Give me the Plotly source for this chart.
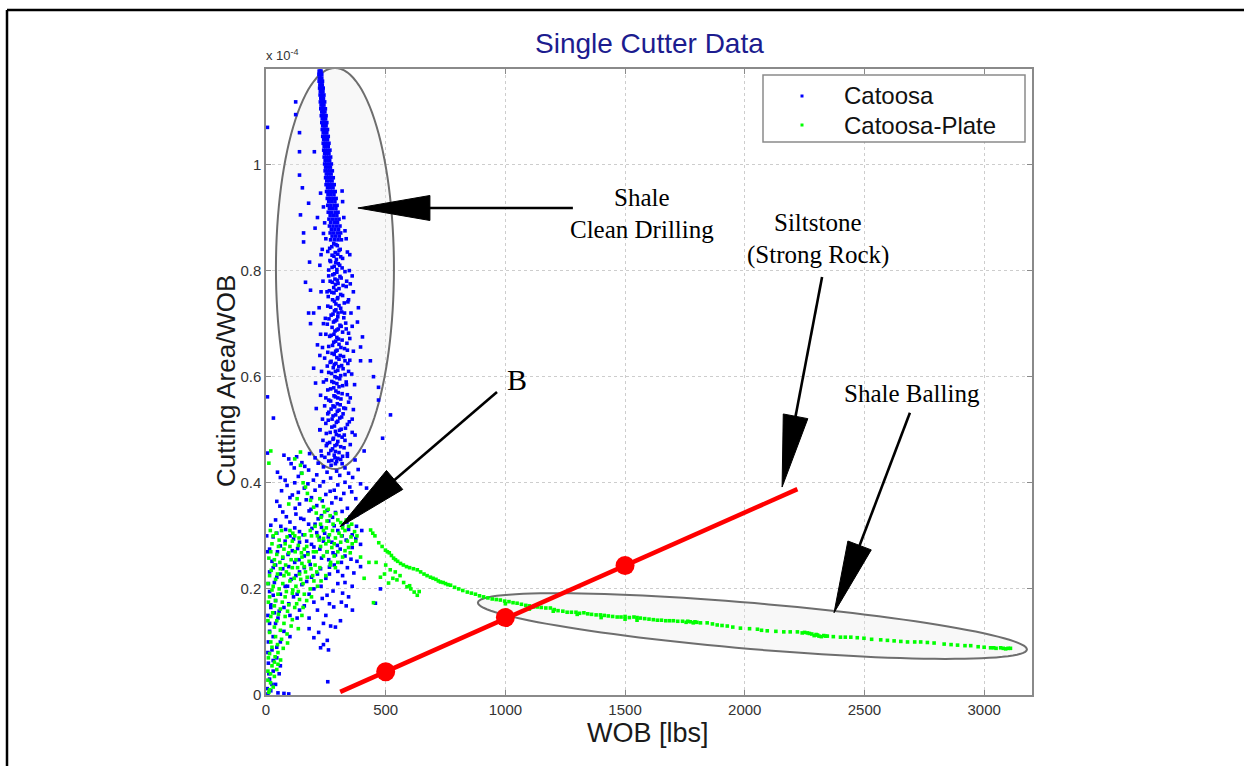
import numpy as np
import plotly.graph_objects as go

# ---------------- data: WOB [lbs] vs cutting area / WOB [x 1e-4] ----------------

# Catoosa, clean-drilling band: rows of (ratio, [WOB values])
catoosa_band_rows = [
    (1.176, [222, 226, 230]), (1.170, [221, 225, 229, 233]), (1.163, [223, 228, 233]),
    (1.157, [222, 227, 232, 236]), (1.150, [225, 230, 235]), (1.144, [224, 229, 234, 239]),
    (1.138, [227, 232, 238]), (1.131, [226, 231, 236, 242]), (1.125, [229, 234, 240]),
    (1.118, [227, 233, 239, 245]), (1.112, [230, 236, 242]), (1.105, [229, 235, 241, 248]),
    (1.099, [233, 239, 246]), (1.092, [231, 237, 244, 251]), (1.086, [235, 242, 249]),
    (1.079, [233, 240, 247, 254]), (1.073, [237, 244, 251]), (1.066, [235, 242, 249, 257]),
    (1.060, [239, 246, 254]), (1.053, [237, 245, 252, 260]), (1.047, [241, 249, 257]),
    (1.040, [239, 247, 255, 263]), (1.034, [243, 251, 260]), (1.027, [241, 249, 258, 267]),
    (1.021, [245, 254, 263]), (1.014, [243, 252, 261, 270]), (1.008, [247, 256, 266]),
    (1.001, [245, 254, 264, 273]), (0.995, [249, 259, 269]), (0.988, [247, 257, 267, 277]),
    (0.982, [252, 262, 272]), (0.975, [249, 260, 270, 281]), (0.969, [254, 265, 276]),
    (0.962, [251, 262, 273, 285]), (0.956, [257, 268, 280]), (0.949, [253, 265, 277, 289]),
    (0.943, [259, 271, 284]), (0.936, [256, 268, 281, 293]), (0.930, [262, 275, 288]),
    (0.923, [258, 271, 285, 297]), (0.917, [265, 278, 292]), (0.910, [260, 274, 289, 301]),
    (0.904, [268, 282, 296]), (0.897, [263, 277, 292, 305]), (0.891, [270, 285, 299]),
    (0.884, [265, 280, 295, 309]), (0.878, [273, 288, 303]), (0.871, [268, 283, 298, 312]),
    (0.865, [276, 291, 306]), (0.858, [270, 286, 301, 315]),
]

# Catoosa, lower part of the band
catoosa_band_lower = [
    (283, 0.851), (298, 0.847), (266, 0.842), (305, 0.838), (289, 0.834), (276, 0.829),
    (312, 0.826), (294, 0.821), (270, 0.817), (302, 0.813), (285, 0.808), (318, 0.805),
    (262, 0.801), (296, 0.797), (279, 0.792), (309, 0.789), (288, 0.784), (268, 0.780),
    (301, 0.776), (322, 0.772), (283, 0.768), (293, 0.763), (275, 0.759), (312, 0.755),
    (260, 0.751), (298, 0.747), (286, 0.742), (327, 0.739), (305, 0.734), (270, 0.731),
    (292, 0.726), (316, 0.722), (280, 0.718), (300, 0.713), (263, 0.709), (288, 0.705),
    (333, 0.701), (309, 0.697), (276, 0.693), (296, 0.688), (320, 0.684), (284, 0.680),
    (266, 0.676), (303, 0.671), (291, 0.667), (338, 0.663), (278, 0.659), (313, 0.655),
    (297, 0.650), (258, 0.646), (285, 0.642), (324, 0.638), (305, 0.633), (272, 0.629),
    (292, 0.625), (316, 0.621), (281, 0.617), (300, 0.612), (262, 0.608), (330, 0.604),
    (288, 0.600), (308, 0.596), (275, 0.591), (296, 0.587), (320, 0.583), (283, 0.579),
    (258, 0.575), (302, 0.570), (340, 0.566), (290, 0.562), (313, 0.558), (270, 0.554),
    (298, 0.549), (280, 0.545), (325, 0.541), (305, 0.537), (262, 0.533), (291, 0.528),
    (316, 0.524), (276, 0.520), (300, 0.516), (250, 0.512), (286, 0.507), (332, 0.503),
    (307, 0.499), (268, 0.495), (294, 0.491), (318, 0.486), (280, 0.482), (300, 0.478),
    (256, 0.474), (288, 0.470), (326, 0.466), (271, 0.461), (305, 0.457), (285, 0.452),
    (246, 0.448), (312, 0.444), (295, 0.440),
    (292, 0.849), (275, 0.845), (310, 0.840), (258, 0.836), (300, 0.831), (284, 0.827),
    (320, 0.823), (267, 0.819), (291, 0.815), (308, 0.810), (276, 0.806), (296, 0.802),
    (330, 0.798), (286, 0.794), (262, 0.790), (314, 0.786), (298, 0.782), (277, 0.778),
    (290, 0.774), (335, 0.770), (305, 0.766), (265, 0.762), (284, 0.758), (320, 0.753),
    (300, 0.749), (278, 0.745), (342, 0.741), (292, 0.737), (258, 0.733), (312, 0.729),
    (286, 0.724), (301, 0.720), (272, 0.716), (325, 0.711), (295, 0.707), (282, 0.703),
    (256, 0.699), (314, 0.695), (302, 0.690), (288, 0.686), (345, 0.682), (272, 0.678),
    (296, 0.674), (318, 0.669), (283, 0.665), (305, 0.661), (262, 0.657), (328, 0.653),
    (291, 0.648), (276, 0.644), (310, 0.640), (296, 0.636), (350, 0.631), (268, 0.627),
    (285, 0.623), (304, 0.619), (322, 0.615), (290, 0.610), (274, 0.606), (312, 0.602),
    (296, 0.598), (252, 0.594), (283, 0.589), (336, 0.585), (305, 0.581), (270, 0.577),
    (292, 0.573), (318, 0.568), (284, 0.564), (300, 0.560), (262, 0.556), (345, 0.552),
    (310, 0.547), (287, 0.543), (272, 0.539), (298, 0.535), (322, 0.530), (280, 0.526),
    (308, 0.522), (260, 0.518), (294, 0.514), (340, 0.510), (275, 0.505), (314, 0.501),
    (290, 0.497), (252, 0.493), (305, 0.489), (282, 0.484), (330, 0.480), (266, 0.476),
    (296, 0.472), (312, 0.468), (278, 0.464), (290, 0.459), (262, 0.455), (320, 0.450),
    (300, 0.446), (275, 0.442), (290, 0.436),
    (235, 0.84), (340, 0.835), (225, 0.81), (348, 0.80), (238, 0.78), (352, 0.775),
    (230, 0.76), (345, 0.745), (222, 0.73), (355, 0.72), (240, 0.70), (360, 0.695),
    (228, 0.68), (350, 0.672), (236, 0.655), (365, 0.648), (245, 0.635), (342, 0.625),
    (232, 0.61), (358, 0.605), (240, 0.59), (370, 0.585), (228, 0.565), (352, 0.56),
    (245, 0.545), (365, 0.538), (236, 0.52), (348, 0.515), (225, 0.50), (360, 0.495),
    (238, 0.48), (352, 0.472), (230, 0.46), (340, 0.455), (250, 0.68), (335, 0.59),
    (328, 0.72), (256, 0.62), (332, 0.54), (250, 0.56), (340, 0.65), (255, 0.76),
    (337, 0.78), (248, 0.71), (345, 0.61), (252, 0.47), (327, 0.49), (335, 0.69),
    (258, 0.53), (330, 0.63), (320, 0.93), (325, 0.90), (330, 0.875), (240, 0.92),
    (245, 0.89), (318, 0.95), (250, 0.86), (335, 0.86),
]

# Catoosa, scattered points around the band
catoosa_scatter = [
    (6, 1.07), (124, 1.118), (124, 1.094), (140, 1.06), (140, 1.024), (202, 1.024),
    (140, 0.98), (152, 0.956), (228, 0.946), (178, 0.927), (144, 0.905), (157, 0.871),
    (157, 0.854), (182, 0.816), (165, 0.778), (186, 0.763), (178, 0.72), (199, 0.72),
    (186, 0.70), (386, 0.73), (382, 0.703), (403, 0.675), (395, 0.656), (395, 0.63),
    (436, 0.63), (449, 0.6), (470, 0.58), (470, 0.556), (520, 0.528), (487, 0.484),
    (6, 0.562), (31, 0.522), (6, 0.456), (199, 0.616), (207, 0.588), (215, 0.66),
    (225, 0.64), (360, 0.79), (350, 0.83), (365, 0.76), (210, 0.54), (225, 0.5),
    (360, 0.52), (372, 0.49), (410, 0.46), (230, 0.83), (240, 0.87), (215, 0.90),
    (205, 0.88),
]

# Catoosa, low-ratio cloud near the origin
catoosa_low = [
    (95, 0.445), (150, 0.438), (205, 0.447), (262, 0.441), (318, 0.436), (372, 0.443),
    (118, 0.428), (178, 0.424), (240, 0.43), (295, 0.422), (345, 0.418), (60, 0.41),
    (135, 0.412), (198, 0.405), (270, 0.409), (330, 0.401), (395, 0.398), (88, 0.395),
    (160, 0.39), (225, 0.394), (285, 0.386), (358, 0.383), (110, 0.377), (190, 0.372),
    (250, 0.378), (312, 0.369), (45, 0.365), (140, 0.36), (212, 0.357), (275, 0.362),
    (340, 0.352), (400, 0.357),
    (70, 0.345), (125, 0.341), (180, 0.347), (232, 0.338), (290, 0.344), (352, 0.336),
    (40, 0.33), (100, 0.326), (158, 0.331), (205, 0.322), (262, 0.328), (320, 0.321),
    (378, 0.318), (82, 0.312), (140, 0.308), (192, 0.314), (245, 0.305), (300, 0.31),
    (360, 0.302), (30, 0.298), (115, 0.294), (170, 0.29), (222, 0.297), (275, 0.288),
    (335, 0.292), (395, 0.284), (60, 0.281), (132, 0.276), (200, 0.279), (255, 0.27),
    (310, 0.275), (92, 0.265), (160, 0.262), (232, 0.258), (290, 0.264), (355, 0.256),
    (25, 0.252), (120, 0.25),
    (185, 0.246), (265, 0.241), (395, 0.242), (367, 0.23), (70, 0.238), (140, 0.232),
    (215, 0.228), (300, 0.233), (45, 0.222), (105, 0.218), (170, 0.214), (250, 0.22),
    (330, 0.212), (80, 0.205), (200, 0.2), (280, 0.196), (345, 0.185), (478, 0.2),
    (130, 0.19), (30, 0.188), (235, 0.182), (315, 0.175), (95, 0.172), (160, 0.168),
    (283, 0.166), (361, 0.16), (215, 0.16), (457, 0.173), (55, 0.158), (311, 0.14),
    (250, 0.15), (130, 0.145),
    (220, 0.118), (256, 0.103), (228, 0.089), (261, 0.085), (180, 0.125), (270, 0.13),
    (100, 0.11), (40, 0.135), (15, 0.12), (60, 0.1), (25, 0.085), (45, 0.07),
    (10, 0.06), (30, 0.045), (55, 0.04), (15, 0.03), (40, 0.02), (5, 0.012),
    (20, 0.008), (50, 0.004), (75, 0.003), (95, 0.002), (8, 0.002), (258, 0.025),
    (30, 0.24), (10, 0.21), (20, 0.17), (8, 0.15), (35, 0.155),
    (75, 0.452), (128, 0.449), (182, 0.455), (232, 0.451), (288, 0.447), (340, 0.45),
    (105, 0.436), (162, 0.431), (218, 0.437), (272, 0.433), (330, 0.428), (385, 0.425),
    (48, 0.42), (148, 0.418), (212, 0.415), (255, 0.42), (308, 0.414), (362, 0.41),
    (80, 0.405), (120, 0.4), (175, 0.398), (240, 0.402), (300, 0.396), (350, 0.392),
    (420, 0.39), (65, 0.385), (135, 0.382), (205, 0.386), (268, 0.384), (325, 0.38),
    (100, 0.372), (168, 0.368), (235, 0.366), (292, 0.372), (375, 0.37), (58, 0.356),
    (122, 0.352), (188, 0.35), (255, 0.348), (318, 0.346), (380, 0.34), (85, 0.336),
    (145, 0.333), (218, 0.332), (278, 0.335), (338, 0.326), (20, 0.32), (62, 0.318),
    (120, 0.315), (178, 0.322), (232, 0.316), (285, 0.319), (345, 0.312), (400, 0.31),
    (45, 0.305), (100, 0.3), (155, 0.302), (212, 0.306), (260, 0.298), (318, 0.3),
    (375, 0.295), (80, 0.29), (140, 0.288), (190, 0.284), (240, 0.29), (298, 0.282),
    (360, 0.278), (15, 0.275), (48, 0.27), (110, 0.272), (175, 0.268), (225, 0.275),
    (280, 0.268), (330, 0.262), (70, 0.258), (138, 0.255), (200, 0.26), (262, 0.255),
    (315, 0.25), (380, 0.252),
    (40, 0.245), (95, 0.242), (160, 0.24), (228, 0.238), (285, 0.245), (340, 0.24),
    (15, 0.232), (60, 0.228), (125, 0.225), (190, 0.222), (265, 0.228), (320, 0.225),
    (35, 0.212), (90, 0.205), (150, 0.208), (230, 0.205), (300, 0.21), (360, 0.205),
    (15, 0.195), (60, 0.19), (115, 0.185), (180, 0.19), (255, 0.188), (320, 0.192),
    (40, 0.178), (75, 0.165), (140, 0.16), (200, 0.175), (265, 0.172), (335, 0.168),
    (20, 0.165), (50, 0.145), (100, 0.15), (180, 0.145), (240, 0.135), (290, 0.128),
    (15, 0.135), (30, 0.11), (75, 0.12), (200, 0.108), (240, 0.095), (10, 0.1),
    (45, 0.09), (30, 0.065), (12, 0.04), (60, 0.055), (25, 0.02), (8, 0.08),
    (3, 0.3), (5, 0.27),
]

# Catoosa-Plate, cloud at low WOB
plate_cloud = [
    (144, 0.458), (144, 0.433), (150, 0.418), (155, 0.40), (173, 0.38), (186, 0.367),
    (199, 0.354), (210, 0.343), (12, 0.437), (20, 0.46), (120, 0.445), (165, 0.392),
    (225, 0.37), (240, 0.355), (260, 0.35), (130, 0.37), (95, 0.36),
    (230, 0.335), (255, 0.328), (280, 0.322), (300, 0.33), (320, 0.315), (345, 0.318),
    (370, 0.308), (205, 0.318), (240, 0.31), (265, 0.302), (290, 0.296), (315, 0.3),
    (340, 0.29), (190, 0.3), (222, 0.292), (250, 0.285), (275, 0.278), (300, 0.27),
    (330, 0.272), (360, 0.285), (380, 0.3), (210, 0.27), (240, 0.262), (170, 0.28),
    (150, 0.26),
    (30, 0.3), (55, 0.292), (80, 0.285), (110, 0.29), (135, 0.282), (160, 0.275),
    (20, 0.27), (45, 0.265), (70, 0.26), (95, 0.268), (125, 0.255), (150, 0.248),
    (180, 0.252), (35, 0.245), (60, 0.238), (85, 0.232), (110, 0.24), (140, 0.228),
    (165, 0.232), (195, 0.225), (15, 0.225), (40, 0.218), (70, 0.21), (100, 0.215),
    (125, 0.205), (155, 0.21), (185, 0.2), (215, 0.205), (25, 0.198), (50, 0.19),
    (80, 0.185), (110, 0.192), (140, 0.18), (170, 0.178), (10, 0.175), (35, 0.168),
    (60, 0.162), (90, 0.158), (120, 0.165), (150, 0.15), (20, 0.148), (45, 0.14),
    (75, 0.135), (105, 0.13), (135, 0.125), (15, 0.118), (40, 0.11), (65, 0.105),
    (90, 0.098), (25, 0.09), (50, 0.08), (10, 0.07), (35, 0.062), (61, 0.066),
    (19, 0.04), (8, 0.028), (30, 0.015), (19, 0.023), (45, 0.048), (12, 0.005),
    (225, 0.24), (250, 0.225), (205, 0.245), (230, 0.215), (270, 0.25), (290, 0.24),
    (120, 0.3), (100, 0.31), (449, 0.174), (410, 0.22), (430, 0.25), (395, 0.26),
    (18, 0.31), (42, 0.305), (65, 0.31), (88, 0.298), (112, 0.305), (138, 0.296),
    (162, 0.302), (185, 0.31), (25, 0.285), (52, 0.28), (75, 0.275), (100, 0.28),
    (122, 0.27), (148, 0.268), (175, 0.265), (198, 0.27), (12, 0.258), (35, 0.255),
    (58, 0.25), (82, 0.245), (105, 0.255), (132, 0.24), (160, 0.242), (188, 0.238),
    (212, 0.232), (22, 0.235), (48, 0.228), (75, 0.225), (95, 0.228), (118, 0.22),
    (145, 0.218), (172, 0.222), (200, 0.215), (8, 0.21), (30, 0.205), (55, 0.2),
    (85, 0.195), (112, 0.198), (135, 0.195), (160, 0.19), (190, 0.185), (15, 0.185),
    (40, 0.178), (68, 0.175), (95, 0.17), (128, 0.172), (155, 0.165), (28, 0.155),
    (52, 0.152), (80, 0.148), (110, 0.142), (8, 0.14), (35, 0.128), (60, 0.122),
    (88, 0.115), (20, 0.1), (48, 0.095), (72, 0.088), (15, 0.078), (38, 0.072),
    (25, 0.055), (50, 0.058), (8, 0.045), (35, 0.035), (15, 0.01),
    (245, 0.345), (268, 0.338), (292, 0.342), (312, 0.325), (335, 0.33), (358, 0.322),
    (228, 0.322), (252, 0.315), (278, 0.31), (305, 0.305), (330, 0.31), (355, 0.298),
    (215, 0.3), (240, 0.295), (262, 0.29), (285, 0.285), (312, 0.288), (345, 0.278),
    (375, 0.29), (228, 0.28), (255, 0.27), (285, 0.262), (320, 0.26), (352, 0.268),
    (268, 0.245), (300, 0.25),
]

# Catoosa-Plate, decaying trend at higher WOB
plate_trend = [
    (437, 0.311), (455, 0.3), (471, 0.287), (499, 0.273), (515, 0.268), (533, 0.258),
    (550, 0.252), (574, 0.245), (600, 0.24), (632, 0.236), (660, 0.228), (687, 0.222),
    (710, 0.218), (729, 0.213), (750, 0.21), (771, 0.207), (805, 0.2), (841, 0.194),
    (875, 0.19), (909, 0.185), (945, 0.181), (979, 0.179), (1015, 0.176), (1049, 0.173),
    (1085, 0.169), (1118, 0.166), (1150, 0.165), (1188, 0.164), (1220, 0.159),
    (1258, 0.156), (1295, 0.156), (1328, 0.155), (1360, 0.152), (1397, 0.151),
    (1430, 0.149), (1467, 0.147), (1500, 0.148), (1537, 0.147), (1564, 0.145),
    (1600, 0.143), (1635, 0.141), (1670, 0.14), (1702, 0.14), (1740, 0.139),
    (1755, 0.137), (1773, 0.138), (1785, 0.136), (1800, 0.137), (1843, 0.136),
    (1885, 0.132), (1927, 0.13), (1982, 0.126), (2053, 0.124), (2094, 0.121),
    (2163, 0.119), (2220, 0.119), (2240, 0.117), (2262, 0.117), (2280, 0.115),
    (2290, 0.112), (2304, 0.113), (2320, 0.11), (2330, 0.112), (2345, 0.111),
    (2400, 0.109), (2443, 0.109), (2498, 0.107), (2568, 0.104), (2624, 0.102),
    (2680, 0.1), (2735, 0.1), (2791, 0.098), (2833, 0.096), (2889, 0.094),
    (2944, 0.093), (3000, 0.09), (3027, 0.089), (3050, 0.088), (3069, 0.089),
    (3090, 0.087), (3110, 0.088),
    (478, 0.222), (512, 0.211), (519, 0.236), (547, 0.217), (560, 0.225), (589, 0.204),
    (605, 0.2), (619, 0.194), (632, 0.188), (500, 0.245), (540, 0.232), (460, 0.25),
    (1000, 0.172), (1100, 0.162), (1200, 0.158), (1300, 0.152), (1400, 0.146),
    (1500, 0.143), (1550, 0.141),
    (446, 0.305), (485, 0.28), (507, 0.27), (524, 0.263), (541, 0.255), (562, 0.248),
    (587, 0.242), (616, 0.238), (646, 0.232), (673, 0.225), (698, 0.22), (720, 0.215),
    (740, 0.212), (760, 0.208), (788, 0.203), (822, 0.197), (858, 0.192), (892, 0.187),
    (927, 0.183), (962, 0.18), (997, 0.177), (1032, 0.174), (1067, 0.171), (1100, 0.168),
    (1134, 0.166), (1169, 0.164), (1204, 0.161), (1240, 0.158), (1276, 0.156),
    (1310, 0.154), (1344, 0.153), (1379, 0.151), (1413, 0.15), (1448, 0.148),
    (1483, 0.147), (1518, 0.146), (1550, 0.146), (1582, 0.144), (1618, 0.142),
    (1652, 0.141), (1686, 0.14), (1720, 0.139), (1762, 0.139), (1792, 0.138),
    (1815, 0.136), (1865, 0.134), (1905, 0.131), (1950, 0.128), (2020, 0.125),
    (2070, 0.122), (2130, 0.12), (2190, 0.119), (2250, 0.118), (2270, 0.116),
    (2298, 0.114), (2310, 0.111), (2338, 0.111), (2370, 0.11), (2420, 0.109),
    (2470, 0.108), (2530, 0.105), (2596, 0.103), (2652, 0.101), (2710, 0.1),
    (2763, 0.099), (2862, 0.095), (2920, 0.093), (2975, 0.091), (3040, 0.089),
    (3080, 0.088), (3100, 0.088),
    (495, 0.228), (530, 0.22), (575, 0.212), (600, 0.206), (640, 0.195),
]

# Siltstone (strong rock) trend line and its sample points
siltstone_wob = [310, 500, 1000, 1500, 2220]
siltstone_ratio = [0.006, 0.044, 0.146, 0.244, 0.388]

x_ticks = [0, 500, 1000, 1500, 2000, 2500, 3000]
y_ticks = [0, 0.2, 0.4, 0.6, 0.8, 1.0]
y_tick_text = ["0", "0.2", "0.4", "0.6", "0.8", "1"]

series_names = ["Catoosa", "Catoosa-Plate"]
series_colors = ["#0000ff", "#00ff00"]

# ---------------- layout geometry ----------------
W, H = 1253, 774
ML, MR, MT, MB = 266, 221, 69, 79
PW, PH = W - ML - MR, H - MT - MB
X_MAX, Y_MAX = 3200, 1.18
SX, SY = PW / X_MAX, PH / Y_MAX  # pixels per data unit


def px_x(px):
    return (px - ML) / PW


def px_y(py):
    return (H - MB - py) / PH


def unpack(points):
    return [p[0] for p in points], [p[1] for p in points]


band_x, band_y = [], []
for ratio, wobs in catoosa_band_rows:
    for w in wobs:
        band_x.append(w)
        band_y.append(ratio)

cx1, cy1 = unpack(catoosa_band_lower)
cx2, cy2 = unpack(catoosa_scatter)
cx3, cy3 = unpack(catoosa_low)
catoosa_x = band_x + cx1 + cx2 + cx3
catoosa_y = band_y + cy1 + cy2 + cy3

px1, py1 = unpack(plate_cloud)
px2, py2 = unpack(plate_trend)
plate_x = px1 + px2
plate_y = py1 + py2


def ellipse_path(cx, cy, a_px, b_px, angle_deg, n=120):
    th = np.radians(angle_deg)
    t = np.linspace(0, 2 * np.pi, n, endpoint=False)
    ox = a_px * np.cos(t) * np.cos(th) - b_px * np.sin(t) * np.sin(th)
    oy = a_px * np.cos(t) * np.sin(th) + b_px * np.sin(t) * np.cos(th)
    xs = cx + ox / SX
    ys = cy + oy / SY
    return "M " + " L ".join(f"{x:.2f},{y:.5f}" for x, y in zip(xs, ys)) + " Z"


def arrow_shapes(tail, tip, head_len=72, head_half=12.5, width=2.6):
    t = np.array([tail[0] * SX, tail[1] * SY])
    p = np.array([tip[0] * SX, tip[1] * SY])
    d = (p - t) / np.linalg.norm(p - t)
    n = np.array([-d[1], d[0]])
    base = p - d * head_len
    b1 = base + n * head_half
    b2 = base - n * head_half

    def to_data(v):
        return f"{v[0] / SX:.2f},{v[1] / SY:.5f}"

    shaft = dict(type="path", xref="x", yref="y", layer="above",
                 path=f"M {to_data(t)} L {to_data(base + d * 4)}",
                 line=dict(color="black", width=width))
    head = dict(type="path", xref="x", yref="y", layer="above",
                path=f"M {to_data(p)} L {to_data(b1)} L {to_data(b2)} Z",
                fillcolor="black", line=dict(color="black", width=1))
    return [shaft, head]


fig = go.Figure()

fig.add_trace(go.Scatter(
    x=catoosa_x, y=catoosa_y, mode="markers", name=series_names[0], showlegend=False,
    marker=dict(symbol="square", size=3.6, color=series_colors[0], line=dict(width=0)),
))
fig.add_trace(go.Scatter(
    x=plate_x, y=plate_y, mode="markers", name=series_names[1], showlegend=False,
    marker=dict(symbol="square", size=3.6, color=series_colors[1], line=dict(width=0)),
))
fig.add_trace(go.Scatter(
    x=siltstone_wob, y=siltstone_ratio, mode="lines", showlegend=False,
    line=dict(color="#ff0000", width=4.5),
))
fig.add_trace(go.Scatter(
    x=siltstone_wob[1:4], y=siltstone_ratio[1:4], mode="markers", showlegend=False,
    marker=dict(size=19, color="#ff0000", line=dict(width=0)),
))

shapes = []
# ellipses around the clean-drilling band and the balling trend
ellipse_style = dict(type="path", xref="x", yref="y", layer="between",
                     fillcolor="rgba(232,232,232,0.3)",
                     line=dict(color="#6e6e6e", width=2))
shapes.append(dict(ellipse_style, path=ellipse_path(288, 0.804, 59, 200.5, 0)))
shapes.append(dict(ellipse_style, path=ellipse_path(2032, 0.130, 275.5, 23, -4.9)))

# pointer arrows (tail, tip) in data units
shapes += arrow_shapes((1282, 0.918), (384, 0.918))
shapes += arrow_shapes((965, 0.571), (309, 0.317))
shapes += arrow_shapes((2323, 0.788), (2156, 0.392))
shapes += arrow_shapes((2690, 0.532), (2373, 0.155))

# legend box with its two sample markers
shapes.append(dict(type="rect", xref="paper", yref="paper", layer="above",
                   x0=px_x(763), x1=px_x(1025), y0=px_y(142), y1=px_y(75),
                   fillcolor="white", line=dict(color="#8a8a8a", width=1.5)))
for row_py, color in zip([96, 125], series_colors):
    shapes.append(dict(type="rect", xref="paper", yref="paper", layer="above",
                       x0=px_x(800.5), x1=px_x(803.5), y0=px_y(row_py + 1.5),
                       y1=px_y(row_py - 1.5), fillcolor=color, line=dict(width=0)))

# outer frame of the figure (left and top edges)
shapes.append(dict(type="line", xref="paper", yref="paper", layer="above",
                   x0=px_x(7), x1=px_x(7), y0=px_y(766), y1=px_y(10),
                   line=dict(color="black", width=2.5)))
shapes.append(dict(type="line", xref="paper", yref="paper", layer="above",
                   x0=px_x(7), x1=px_x(1244), y0=px_y(10), y1=px_y(10),
                   line=dict(color="black", width=2.5)))

serif = dict(family="Liberation Serif, Times New Roman, serif", size=25, color="black")
sans = "Liberation Sans, Arial, sans-serif"

annotations = [
    dict(text="Single Cutter Data", xref="paper", yref="paper", x=px_x(649), y=px_y(44),
         xanchor="center", yanchor="middle", showarrow=False,
         font=dict(family=sans, size=28, color="#1c1c8f")),
    dict(text="x 10<sup>-4</sup>", xref="paper", yref="paper", x=px_x(264), y=px_y(55),
         xanchor="left", yanchor="middle", showarrow=False,
         font=dict(family=sans, size=13, color="#333333")),
    dict(text="WOB [lbs]", xref="paper", yref="paper", x=px_x(648), y=px_y(733),
         xanchor="center", yanchor="middle", showarrow=False,
         font=dict(family=sans, size=27, color="#1a1a1a")),
    dict(text="Cutting Area/WOB", xref="paper", yref="paper", x=px_x(226), y=px_y(381),
         xanchor="center", yanchor="middle", showarrow=False, textangle=-90,
         font=dict(family=sans, size=26, color="#1a1a1a")),
    dict(text="Shale", x=1571, y=0.937, xanchor="center", yanchor="middle",
         showarrow=False, font=serif),
    dict(text="Clean Drilling", x=1571, y=0.877, xanchor="center", yanchor="middle",
         showarrow=False, font=serif),
    dict(text="Siltstone", x=2306, y=0.89, xanchor="center", yanchor="middle",
         showarrow=False, font=serif),
    dict(text="(Strong Rock)", x=2306, y=0.829, xanchor="center", yanchor="middle",
         showarrow=False, font=serif),
    dict(text="Shale Balling", x=2699, y=0.569, xanchor="center", yanchor="middle",
         showarrow=False, font=serif),
    dict(text="B", x=1048, y=0.594, xanchor="center", yanchor="middle",
         showarrow=False, font=dict(family=serif["family"], size=30, color="black")),
]
# legend entries
for row_py, name in zip([96, 125], series_names):
    annotations.append(dict(text=name, xref="paper", yref="paper", x=px_x(842),
                            y=px_y(row_py), xanchor="left", yanchor="middle",
                            showarrow=False,
                            font=dict(family=sans, size=24, color="#111111")))

axis_common = dict(
    showline=True, linecolor="#8a8a8a", linewidth=1.5, mirror="ticks",
    ticks="inside", ticklen=5, tickcolor="#8a8a8a", tickwidth=1,
    showgrid=True, gridcolor="#cdcdcd", griddash="dot", gridwidth=1,
    zeroline=False, tickfont=dict(family=sans, size=15, color="#333333"),
    fixedrange=True,
)

fig.update_layout(
    width=W, height=H,
    margin=dict(l=ML, r=MR, t=MT, b=MB, pad=0),
    paper_bgcolor="white", plot_bgcolor="white",
    font=dict(family=sans),
    xaxis=dict(range=[0, X_MAX], tickvals=x_ticks, **axis_common),
    yaxis=dict(range=[0, Y_MAX], tickvals=y_ticks, ticktext=y_tick_text, **axis_common),
    showlegend=False,
    shapes=shapes,
    annotations=annotations,
)

fig.write_html("out.html")
